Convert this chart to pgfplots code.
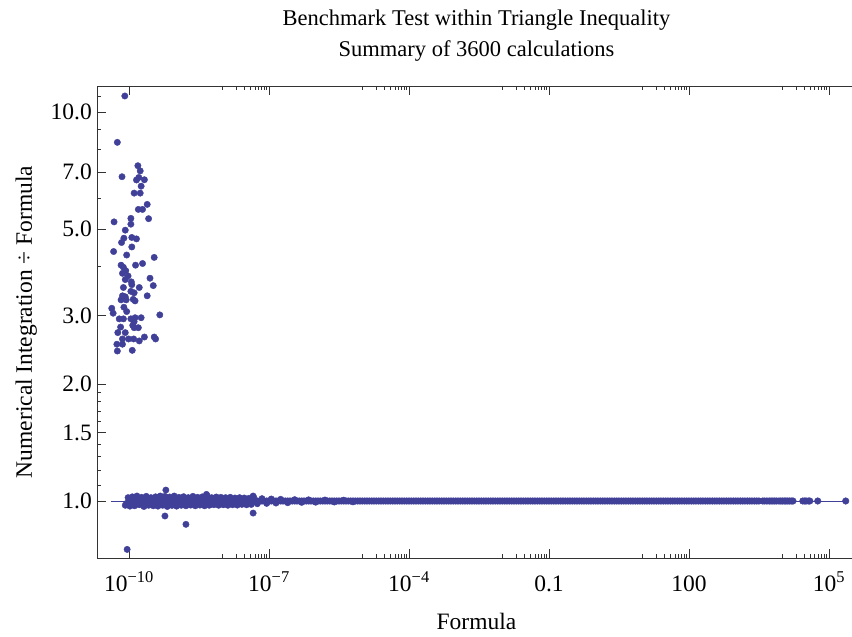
\documentclass[border=0pt]{standalone}
\usepackage{fontspec}
\setmainfont{Liberation Serif}
\usepackage{pgfplots}
\pgfplotsset{compat=1.18}
\definecolor{mblue}{rgb}{0.25,0.25,0.6}
\begin{document}
\begin{tikzpicture}[font=\fontsize{23.5}{30}\selectfont]
\begin{axis}[
  at={(0,0)}, anchor=south west,
  scale only axis, width=759pt, height=472pt,
  xmin=-10.686, xmax=5.58,
  ymode=log, ymin=0.7136, ymax=11.67,
  axis line style={black!80, line width=0.8pt},
  tick style={black!80, line width=0.8pt},
  tick align=inside,
  ytick pos=left,
  major tick length=9pt, minor tick length=4pt,
  xtick={-10,-7,-4,-1,2,5},
  xticklabels={10\textsuperscript{−10},10\textsuperscript{−7},10\textsuperscript{−4},0.1,100,10\textsuperscript{5}},
  minor xtick={-8,-7.699,-7.523,-7.398,-7.301,-7.222,-7.155,-7.097,-7.046,
               -5,-4.699,-4.523,-4.398,-4.301,-4.222,-4.155,-4.097,-4.046,
               -2,-1.699,-1.523,-1.398,-1.301,-1.222,-1.155,-1.097,-1.046,
               1,1.301,1.477,1.602,1.699,1.778,1.845,1.903,1.954,
               4,4.301,4.477,4.602,4.699,4.778,4.845,4.903,4.954},
  ytick={1,1.5,2,3,5,7,10},
  yticklabels={1.0,1.5,2.0,3.0,5.0,7.0,10.0},
  minor ytick={1.1,1.2,1.3,1.4,1.6,1.7,1.8,1.9,4,6,8,9,11},
  xticklabel style={anchor=base, yshift=-34pt},
  yticklabel style={inner sep=0pt, xshift=-5pt},
  title={Benchmark Test within Triangle Inequality\\Summary of 3600 calculations},
  title style={at={(axis description cs:0.5,1.039)}, anchor=south, align=center, inner sep=0pt, font=\fontsize{22.5}{31}\selectfont},
  xlabel={Formula},
  xlabel style={at={(axis description cs:0.5,-0.1525)}, anchor=base, inner sep=0pt},
  ylabel={Numerical Integration ÷ Formula},
  ylabel style={at={(axis description cs:-0.0857,0.5)}, anchor=base, rotate=0, inner sep=0pt},
  clip=false,
]
% thin reference line at ratio 1
\addplot[mblue, line width=0.6pt] coordinates {(-10.386,1)(5.36,1)};
% dense band at ratio 1
\addplot[only marks, mark=*, mark size=3.3pt, color=mblue] coordinates {
(-10,1)(-9.9,1)(-9.8,1)(-9.7,1)(-9.6,1)(-9.5,1)(-9.4,1)(-9.3,1)(-9.2,1)(-9.1,1)
(-9,1)(-8.9,1)(-8.8,1)(-8.7,1)(-8.6,1)(-8.5,1)(-8.4,1)(-8.3,1)(-8.2,1)(-8.1,1)
(-8,1)(-7.9,1)(-7.8,1)(-7.7,1)(-7.6,1)(-7.5,1)(-7.4,1)(-7.3,1)(-7.2,1)(-7.1,1)
(-7,1)(-6.9,1)(-6.8,1)(-6.7,1)(-6.6,1)(-6.5,1)(-6.4,1)(-6.3,1)(-6.2,1)(-6.1,1)
(-6,1)(-5.9,1)(-5.8,1)(-5.7,1)(-5.6,1)(-5.5,1)(-5.4,1)(-5.3,1)(-5.2,1)(-5.1,1)
(-5,1)(-4.9,1)(-4.8,1)(-4.7,1)(-4.6,1)(-4.5,1)(-4.4,1)(-4.3,1)(-4.2,1)(-4.1,1)
(-4,1)(-3.9,1)(-3.8,1)(-3.7,1)(-3.6,1)(-3.5,1)(-3.4,1)(-3.3,1)(-3.2,1)(-3.1,1)
(-3,1)(-2.9,1)(-2.8,1)(-2.7,1)(-2.6,1)(-2.5,1)(-2.4,1)(-2.3,1)(-2.2,1)(-2.1,1)
(-2,1)(-1.9,1)(-1.8,1)(-1.7,1)(-1.6,1)(-1.5,1)(-1.4,1)(-1.3,1)(-1.2,1)(-1.1,1)
(-1,1)(-0.9,1)(-0.8,1)(-0.7,1)(-0.6,1)(-0.5,1)(-0.4,1)(-0.3,1)(-0.2,1)(-0.1,1)
(0,1)(0.1,1)(0.2,1)(0.3,1)(0.4,1)(0.5,1)(0.6,1)(0.7,1)(0.8,1)(0.9,1)
(1,1)(1.1,1)(1.2,1)(1.3,1)(1.4,1)(1.5,1)(1.6,1)(1.7,1)(1.8,1)(1.9,1)
(2,1)(2.1,1)(2.2,1)(2.3,1)(2.4,1)(2.5,1)(2.6,1)(2.7,1)(2.8,1)(2.9,1)
(3,1)(3.1,1)(3.2,1)(3.3,1)(3.4,1)(3.5,1)
(3.58,1)(3.62,1)(3.67,1)(3.72,1)(3.76,1)(3.8,1)(3.84,1)(3.88,1)(3.93,1)(3.97,1)
(4.01,1)(4.05,1)(4.08,1)(4.12,1)(4.16,1)(4.2,1)(4.23,1)
(4.44,1)(4.48,1)(4.51,1)(4.56,1)(4.59,1)(4.76,1)(5.36,1)
};
\addplot[only marks, mark=*, mark size=3.3pt, color=mblue] coordinates {
(-9.95,1)(-9.85,1)(-9.75,1)(-9.65,1)(-9.55,1)(-9.45,1)(-9.35,1)(-9.25,1)(-9.15,1)(-9.05,1)
(-8.95,1)(-8.85,1)(-8.75,1)(-8.65,1)(-8.55,1)(-8.45,1)(-8.35,1)(-8.25,1)(-8.15,1)(-8.05,1)
(-7.95,1)(-7.85,1)(-7.75,1)(-7.65,1)(-7.55,1)(-7.45,1)(-7.35,1)(-7.25,1)(-7.15,1)(-7.05,1)
(-6.95,1)(-6.85,1)(-6.75,1)(-6.65,1)(-6.55,1)(-6.45,1)(-6.35,1)(-6.25,1)(-6.15,1)(-6.05,1)
(-5.95,1)(-5.85,1)(-5.75,1)(-5.65,1)(-5.55,1)(-5.45,1)(-5.35,1)(-5.25,1)(-5.15,1)(-5.05,1)
(-4.95,1)(-4.85,1)(-4.75,1)(-4.65,1)(-4.55,1)(-4.45,1)(-4.35,1)(-4.25,1)(-4.15,1)(-4.05,1)
(-3.95,1)(-3.85,1)(-3.75,1)(-3.65,1)(-3.55,1)(-3.45,1)(-3.35,1)(-3.25,1)(-3.15,1)(-3.05,1)
(-2.95,1)(-2.85,1)(-2.75,1)(-2.65,1)(-2.55,1)(-2.45,1)(-2.35,1)(-2.25,1)(-2.15,1)(-2.05,1)
(-1.95,1)(-1.85,1)(-1.75,1)(-1.65,1)(-1.55,1)(-1.45,1)(-1.35,1)(-1.25,1)(-1.15,1)(-1.05,1)
(-0.95,1)(-0.85,1)(-0.75,1)(-0.65,1)(-0.55,1)(-0.45,1)(-0.35,1)(-0.25,1)(-0.15,1)(-0.05,1)
(0.05,1)(0.15,1)(0.25,1)(0.35,1)(0.45,1)(0.55,1)(0.65,1)(0.75,1)(0.85,1)(0.95,1)
(1.05,1)(1.15,1)(1.25,1)(1.35,1)(1.45,1)(1.55,1)(1.65,1)(1.75,1)(1.85,1)(1.95,1)
(2.05,1)(2.15,1)(2.25,1)(2.35,1)(2.45,1)(2.55,1)(2.65,1)(2.75,1)(2.85,1)(2.95,1)
(3.05,1)(3.15,1)(3.25,1)(3.35,1)(3.45,1)
};
% scatter around the band
\addplot[only marks, mark=*, mark size=3.2pt, color=mblue] coordinates {
(-10.08,0.975)(-10.02,1.02)(-9.98,0.97)(-9.93,1.025)(-9.88,0.972)(-9.83,1.03)
(-9.78,0.978)(-9.73,1.022)(-9.68,0.968)(-9.63,1.028)(-9.58,0.975)(-9.53,1.02)
(-9.48,0.972)(-9.43,1.025)(-9.38,0.97)(-9.33,1.03)(-9.28,0.975)(-9.23,1.028)
(-9.18,0.968)(-9.13,1.024)(-9.08,0.974)(-9.03,1.03)(-8.98,0.97)(-8.93,1.022)
(-8.88,0.975)(-8.83,1.026)(-8.78,0.972)(-8.73,1.02)(-8.68,0.976)(-8.63,1.028)
(-8.58,0.972)(-8.53,1.022)(-8.48,0.976)(-8.43,1.025)(-8.38,0.972)(-8.33,1.032)
(-8.28,0.975)(-8.23,1.02)(-8.18,0.978)(-8.13,1.024)(-8.08,0.975)(-8.03,1.022)
(-7.98,0.978)(-7.93,1.02)(-7.88,0.975)(-7.83,1.022)(-7.78,0.978)(-7.73,1.018)
(-7.68,0.976)(-7.63,1.02)(-7.58,0.98)(-7.53,1.018)(-7.48,0.978)(-7.43,1.016)
(-7.38,0.98)(-7.33,1.022)(-7.25,0.984)(-7.15,1.014)(-7.05,0.986)(-6.95,1.012)
(-6.85,0.988)(-6.75,1.01)(-6.6,0.99)(-6.45,1.008)(-6.3,0.992)(-6.15,1.007)
(-6,0.993)(-5.8,1.006)(-5.6,0.994)(-5.4,1.005)(-5.2,0.995)
(-10.05,0.986)(-9.21,1.067)(-9.23,0.915)(-8.78,0.871)(-7.34,0.931)(-10.04,0.751)
(-8.34,1.04)(-7.34,1.03)
};
% cluster of large ratios
\addplot[only marks, mark=*, mark size=3.2pt, color=mblue] coordinates {
(-10.09,11.0)(-10.25,8.36)(-10.15,6.82)(-9.81,7.28)(-9.76,7.06)(-9.79,6.79)
(-9.84,6.69)(-9.67,6.70)(-9.74,6.45)(-9.89,6.19)(-9.76,6.19)(-9.61,5.79)
(-9.80,5.62)(-9.71,5.62)(-9.96,5.33)(-9.58,5.32)(-10.32,5.22)(-9.96,5.15)
(-10.08,4.97)(-9.94,4.76)(-9.84,4.72)(-10.11,4.74)(-10.16,4.62)(-9.94,4.50)
(-10.33,4.38)(-10.05,4.29)(-9.46,4.23)(-10.17,4.04)(-9.86,4.04)(-9.71,4.08)
(-10.12,3.99)(-10.07,3.91)(-10.14,3.85)(-10.02,3.79)(-10.08,3.71)(-9.55,3.74)
(-9.95,3.66)(-9.94,3.60)(-9.48,3.58)(-10.12,3.54)(-9.78,3.54)(-9.96,3.46)
(-9.89,3.43)(-10.14,3.37)(-10.08,3.35)(-9.61,3.37)(-10.17,3.29)(-10.06,3.29)
(-9.91,3.30)(-9.87,3.27)(-10.11,3.15)(-10.37,3.13)(-10.05,3.07)(-10.34,3.04)
(-9.34,3.01)(-10.21,2.94)(-10.12,2.94)(-9.96,2.94)(-9.87,2.96)(-9.74,2.96)
(-9.89,2.89)(-9.92,2.83)(-10.18,2.80)(-9.80,2.79)(-9.89,2.79)(-10.24,2.71)
(-10.08,2.71)(-9.67,2.64)(-9.46,2.64)(-9.43,2.61)(-10.14,2.61)(-10.01,2.61)
(-9.90,2.61)(-9.78,2.58)(-10.26,2.53)(-10.14,2.53)(-10.25,2.43)(-9.93,2.44)
};
\end{axis}
\pgfresetboundingbox
\path[use as bounding box] (-97pt,-79pt) rectangle (755pt,558pt);
\end{tikzpicture}
\end{document}
